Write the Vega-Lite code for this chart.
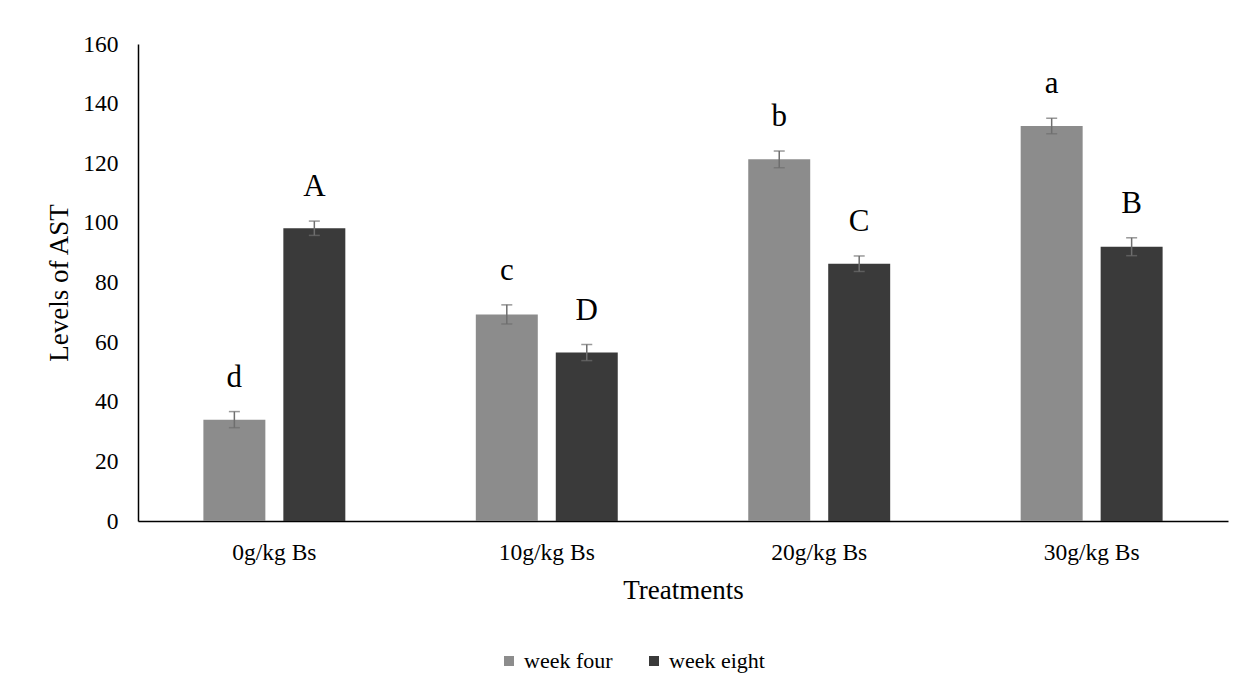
{
  "$schema": "https://vega.github.io/schema/vega-lite/v6.json",
  "autosize": {"type": "none"},
  "width": 1090,
  "height": 477,
  "padding": {"left": 138, "top": 44, "right": 17, "bottom": 165},
  "background": "white",
  "config": {
    "view": {"stroke": null},
    "axis": {
      "labelFont": "Liberation Serif", "labelFontSize": 23.5, "labelColor": "black",
      "titleFont": "Liberation Serif", "titleFontSize": 27, "titleFontWeight": "normal", "titleColor": "black",
      "ticks": false, "grid": false, "domainColor": "black", "domainWidth": 1.5
    },
    "legend": {"labelFont": "Liberation Serif", "labelFontSize": 22, "labelColor": "black"}
  },
  "data": {
    "values": [
      {"treatment": "0g/kg Bs", "week": "week four", "value": 34, "err": 2.7, "letter": "d"},
      {"treatment": "0g/kg Bs", "week": "week eight", "value": 98.2, "err": 2.4, "letter": "A"},
      {"treatment": "10g/kg Bs", "week": "week four", "value": 69.3, "err": 3.2, "letter": "c"},
      {"treatment": "10g/kg Bs", "week": "week eight", "value": 56.5, "err": 2.7, "letter": "D"},
      {"treatment": "20g/kg Bs", "week": "week four", "value": 121.3, "err": 2.8, "letter": "b"},
      {"treatment": "20g/kg Bs", "week": "week eight", "value": 86.3, "err": 2.6, "letter": "C"},
      {"treatment": "30g/kg Bs", "week": "week four", "value": 132.5, "err": 2.6, "letter": "a"},
      {"treatment": "30g/kg Bs", "week": "week eight", "value": 92, "err": 3, "letter": "B"}
    ]
  },
  "encoding": {
    "x": {
      "field": "treatment", "type": "nominal",
      "scale": {"paddingInner": 0.479, "paddingOuter": 0.24},
      "sort": ["0g/kg Bs", "10g/kg Bs", "20g/kg Bs", "30g/kg Bs"],
      "axis": {"title": "Treatments", "labelAngle": 0, "labelPadding": 19, "titlePadding": 14}
    },
    "xOffset": {
      "field": "week", "type": "nominal", "sort": ["week four", "week eight"],
      "scale": {"paddingInner": 0.225, "paddingOuter": 0}
    },
    "y": {
      "field": "value", "type": "quantitative",
      "scale": {"domain": [0, 160]},
      "axis": {"title": "Levels of AST", "values": [0, 20, 40, 60, 80, 100, 120, 140, 160], "labelPadding": 20, "titlePadding": 9}
    }
  },
  "layer": [
    {
      "mark": {"type": "bar"},
      "encoding": {
        "fill": {
          "field": "week", "type": "nominal", "sort": ["week four", "week eight"],
          "scale": {"domain": ["week four", "week eight"], "range": ["#8c8c8c", "#3a3a3a"]},
          "legend": {
            "title": null, "orient": "none", "direction": "horizontal", "legendX": 360, "legendY": 606,
            "symbolType": "square", "symbolSize": 100, "symbolStrokeWidth": 0, "columnPadding": 30, "labelOffset": 4
          }
        }
      }
    },
    {
      "mark": {"type": "errorbar", "ticks": {"size": 11, "color": "#6e6e6e", "thickness": 1.5}, "color": "#6e6e6e", "thickness": 1.5},
      "encoding": {
        "y": {"field": "value", "type": "quantitative", "title": "Levels of AST"},
        "yError": {"field": "err"}
      }
    },
    {
      "transform": [{"calculate": "datum.value + datum.err", "as": "top"}],
      "mark": {"type": "text", "font": "Liberation Serif", "fontSize": 31, "color": "black", "baseline": "alphabetic", "dy": -25},
      "encoding": {
        "y": {"field": "top", "type": "quantitative", "title": "Levels of AST"},
        "text": {"field": "letter"}
      }
    }
  ]
}
